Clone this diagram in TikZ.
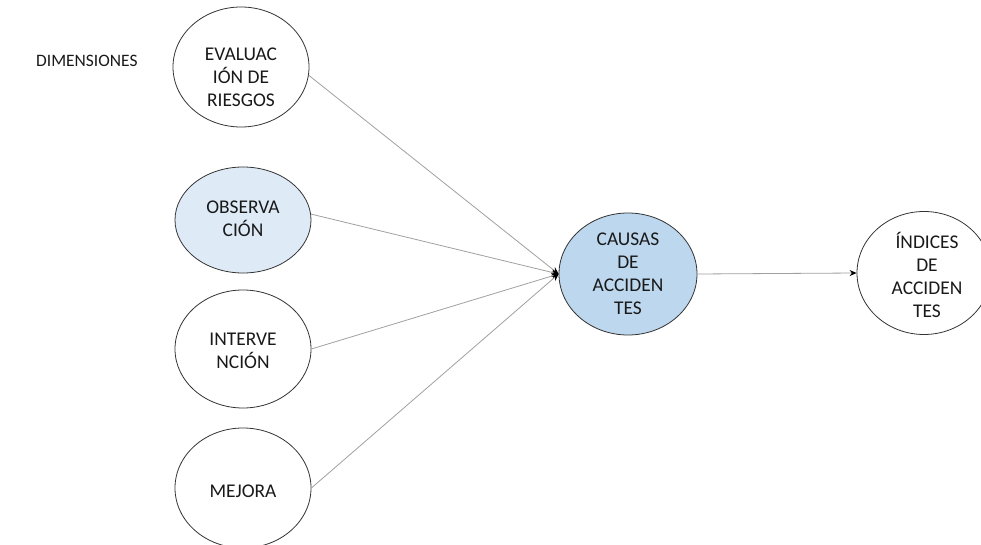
\documentclass[tikz,border=0pt]{standalone}
\usepackage{fontspec}
\setmainfont{Carlito}
\usetikzlibrary{arrows.meta,shapes.geometric}
\definecolor{edgegray}{HTML}{A0A0A0}
\definecolor{lightblue}{HTML}{DEEBF7}
\definecolor{midblue}{HTML}{BDD7EE}
\begin{document}
\begin{tikzpicture}[x=1bp,y=-1bp,
  dimnode/.style={ellipse, draw=black!80, line width=0.8bp, fill=white,
    minimum width=136bp, minimum height=120bp, inner sep=0pt},
  txt/.style={align=center, inner sep=0pt, text=black!90,
    font=\fontsize{19.5}{23}\selectfont},
  link/.style={draw=edgegray, line width=0.8bp,
    -{Stealth[black,length=7bp,width=6bp]}}]
  \useasboundingbox (0,0) rectangle (981,545);
  \clip (0,0) rectangle (981,545);

  % left column: the four dimensions
  \node[dimnode] (ev) at (241,67) {};
  \node[txt] (evt) at (241,77) {EVALUAC\\IÓN DE\\RIESGOS};
  \node[dimnode, fill=lightblue, minimum height=106bp] (ob) at (243,220) {};
  \node[txt] (obt) at (243,219) {OBSERVA\\CIÓN};
  \node[dimnode, minimum height=118bp] (in) at (243,349) {};
  \node[txt] (int) at (243,351) {INTERVE\\NCIÓN};
  \node[dimnode] (me) at (243,488) {};
  \node[txt] (met) at (243,491) {MEJORA};

  % centre and right
  \node[dimnode, fill=midblue, minimum width=138bp, minimum height=122bp] (ca) at (628,274) {};
  \node[txt] (cat) at (628,274) {CAUSAS\\DE\\ACCIDEN\\TES};
  \node[dimnode, minimum width=134bp, minimum height=123bp] (id) at (924,273) {};
  \node[txt] (idt) at (927,275) {ÍNDICES\\DE\\ACCIDEN\\TES};

  \node[txt, anchor=west, font=\fontsize{17.5}{20}\selectfont] (dim) at (36,61) {DIMENSIONES};

  % connectors
  \draw[link] (ev.-7) -- (ca.west);
  \draw[link] (ob.5) -- (ca.west);
  \draw[link] (in.east) -- (ca.west);
  \draw[link] (me.east) -- (ca.west);
  \draw[link] (ca.east) -- (id.west);
\end{tikzpicture}
\end{document}
